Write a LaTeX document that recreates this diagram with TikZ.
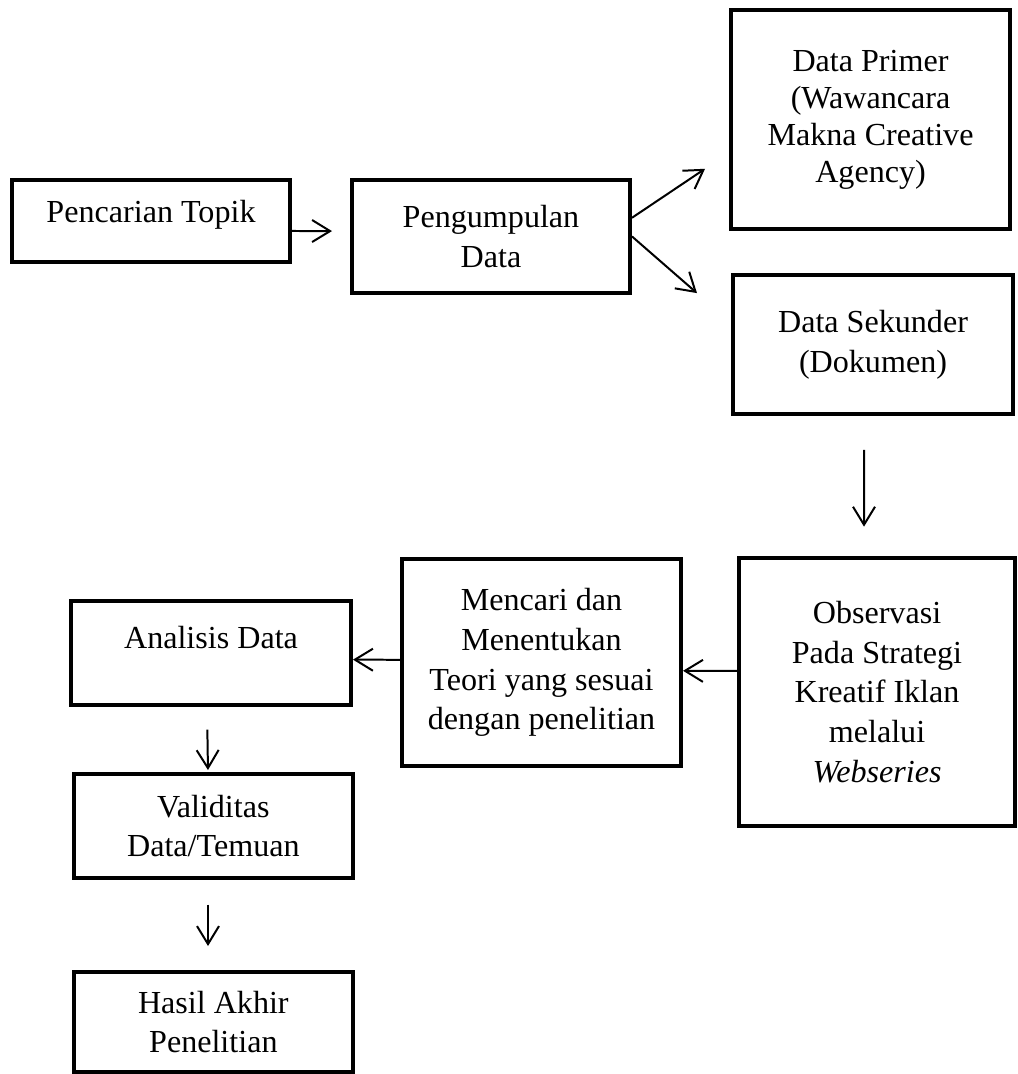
\documentclass[tikz,border=0pt]{standalone}
\usepackage{fontspec}
\setmainfont{Liberation Serif}
\usetikzlibrary{arrows.meta}

\begin{document}
\begin{tikzpicture}[x=1cm,y=1cm,every node/.style={font=\fontsize{13.7}{17}\selectfont},box/.style={draw,line width=1.7pt,align=center,inner sep=0pt},arr/.style={-{Straight Barb[length=2.7mm,width=3.3mm]},line width=.85pt}]
    \useasboundingbox (0,0) rectangle (15.255,16.11);
    % top row
    \node[box,minimum width=4.17cm,minimum height=1.23cm,text depth=.29cm] (pt) at (2.265,12.795) {Pencarian Topik};
    \node[box,minimum width=4.17cm,minimum height=1.695cm] (pd) at (7.365,12.563) {Pengumpulan\\Data};
    \node[box,minimum width=4.185cm,minimum height=3.285cm,font=\fontsize{13.7}{15.8}\selectfont] (dp) at (13.058,14.318) {Data Primer\\(Wawancara\\Makna Creative\\Agency)};
    \node[box,minimum width=4.2cm,minimum height=2.085cm] (ds) at (13.095,10.943) {Data Sekunder\\(Dokumen)};
    % middle row
    \node[box,minimum width=4.14cm,minimum height=4.02cm] (ob) at (13.155,5.73) {Observasi\\Pada Strategi\\Kreatif Iklan\\melalui\\\textit{Webseries}};
    \node[box,minimum width=4.185cm,minimum height=3.105cm] (mt) at (8.123,6.173) {Mencari dan\\Menentukan\\Teori yang sesuai\\dengan penelitian};
    \node[box,minimum width=4.2cm,minimum height=1.56cm,text depth=.47cm] (ad) at (3.165,6.315) {Analisis Data};
    % left column
    \node[box,minimum width=4.185cm,minimum height=1.56cm] (vd) at (3.2,3.72) {Validitas\\Data/Temuan};
    \node[box,minimum width=4.185cm,minimum height=1.5cm] (ha) at (3.2,.78) {Hasil Akhir\\Penelitian};
    % arrows
    \draw[arr,shorten >=2.7mm] ([yshift=-1.5mm]pt.east) -- ([yshift=.8mm]pd.west);
    \draw[arr] ([yshift=2.8mm]pd.east) -- ([xshift=-3.6mm,yshift=-7.4mm]dp.west);
    \draw[arr] (pd.east) -- ([xshift=-5.1mm,yshift=7.7mm]ds.west);
    \draw[arr,shorten <=5.1mm,shorten >=4.4mm] ([xshift=-1.35mm]ds.south) -- ([xshift=-1.95mm]ob.north);
    \draw[arr] ([yshift=3.15mm]ob.west) -- ([yshift=-1.25mm]mt.east);
    \draw[arr] ([yshift=.4mm]mt.west) -- ([yshift=-1mm]ad.east);
    \draw[arr,shorten <=3.4mm,shorten >=.3mm] ([xshift=-.6mm]ad.south) -- ([xshift=-.8mm]vd.north);
    \draw[arr,shorten <=3.7mm,shorten >=3.6mm] ([xshift=-.8mm]vd.south) -- ([xshift=-.8mm]ha.north);
\end{tikzpicture}
\end{document}
